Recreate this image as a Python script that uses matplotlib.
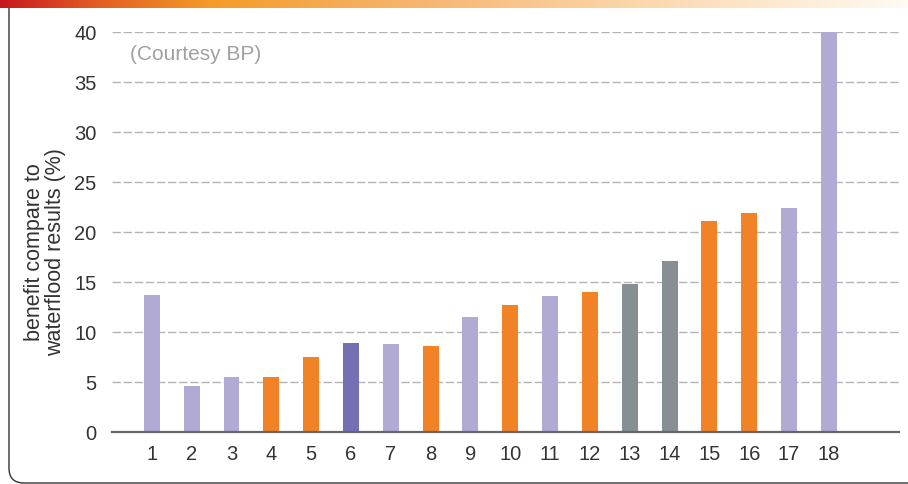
import numpy as np
import matplotlib
matplotlib.use("Agg")
import matplotlib.pyplot as plt
from matplotlib.path import Path
from matplotlib.patches import PathPatch

# data
cases = [str(i) for i in range(1, 19)]
benefit = [13.7, 4.6, 5.5, 5.5, 7.5, 8.9, 8.8, 8.6, 11.5, 12.7,
           13.6, 14.0, 14.8, 17.1, 21.1, 21.9, 22.4, 40.0]
group = ['lp', 'lp', 'lp', 'or', 'or', 'dp', 'lp', 'or', 'lp', 'or',
         'lp', 'or', 'gr', 'gr', 'or', 'or', 'lp', 'lp']
yticks = [0, 5, 10, 15, 20, 25, 30, 35, 40]

palette = {'lp': '#b0aad4', 'or': '#f28226', 'dp': '#7570b3', 'gr': '#858f94'}

plt.rcParams['font.family'] = ['Liberation Sans', 'DejaVu Sans']

W, H = 908, 484
fig = plt.figure(figsize=(W / 100, H / 100), dpi=100)

# gradient strip along the top
gax = fig.add_axes([0, 1 - 8 / H, 1, 8 / H])
stops = np.array([[0.00, 200, 22, 30],
                  [0.10, 225, 90, 35],
                  [0.23, 244, 155, 40],
                  [0.45, 246, 180, 110],
                  [0.70, 251, 215, 170],
                  [1.00, 255, 250, 244]])
xs = np.linspace(0, 1, 600)
grad = np.stack([np.interp(xs, stops[:, 0], stops[:, k]) for k in (1, 2, 3)], axis=-1) / 255
gax.imshow(grad[None, :, :], aspect='auto', extent=[0, 1, 0, 1])
gax.set_axis_off()

# rounded frame (left and bottom edges)
def px(x, y):
    return (x / W, 1 - y / H)

verts = [px(9, 8), px(9, 468), px(9, 483), px(24, 483), px(W + 5, 483)]
codes = [Path.MOVETO, Path.LINETO, Path.CURVE3, Path.CURVE3, Path.LINETO]
fig.add_artist(PathPatch(Path(verts, codes), transform=fig.transFigure,
                         fill=False, edgecolor='#333333', linewidth=1.0))

ax = fig.add_axes([112 / W, 1 - 432 / H, (899 - 112) / W, 400 / H])
x = np.arange(1, len(cases) + 1)
ax.bar(x, benefit, width=0.4, color=[palette[g] for g in group], zorder=2)

ax.set_xlim(0, 19.76)
ax.set_ylim(0, 40)
ax.set_xticks(x)
ax.set_xticklabels(cases)
ax.set_yticks(yticks)
ax.tick_params(length=0, labelsize=14.5, colors='#333333', pad=9)
ax.tick_params(axis='y', pad=11)

for s in ['top', 'right', 'left']:
    ax.spines[s].set_visible(False)
ax.spines['bottom'].set_color('#666666')
ax.spines['bottom'].set_linewidth(1.6)
ax.spines['bottom'].set_zorder(3)

ax.yaxis.grid(True, color='#b4b4b4', linestyle=(0, (6, 2)), linewidth=1.0, zorder=0)
ax.set_axisbelow(True)

ax.text(0.023, 0.945, '(Courtesy BP)', transform=ax.transAxes, fontsize=15,
        color='#a0a0a0', va='center', ha='left')

fig.text(45 / W, 1 - 252 / H, 'benefit compare to\nwaterflood results (%)',
         rotation=90, ha='center', va='center', fontsize=15.5, color='#333333',
         linespacing=1.05)

fig.savefig('out.png', dpi=100)
